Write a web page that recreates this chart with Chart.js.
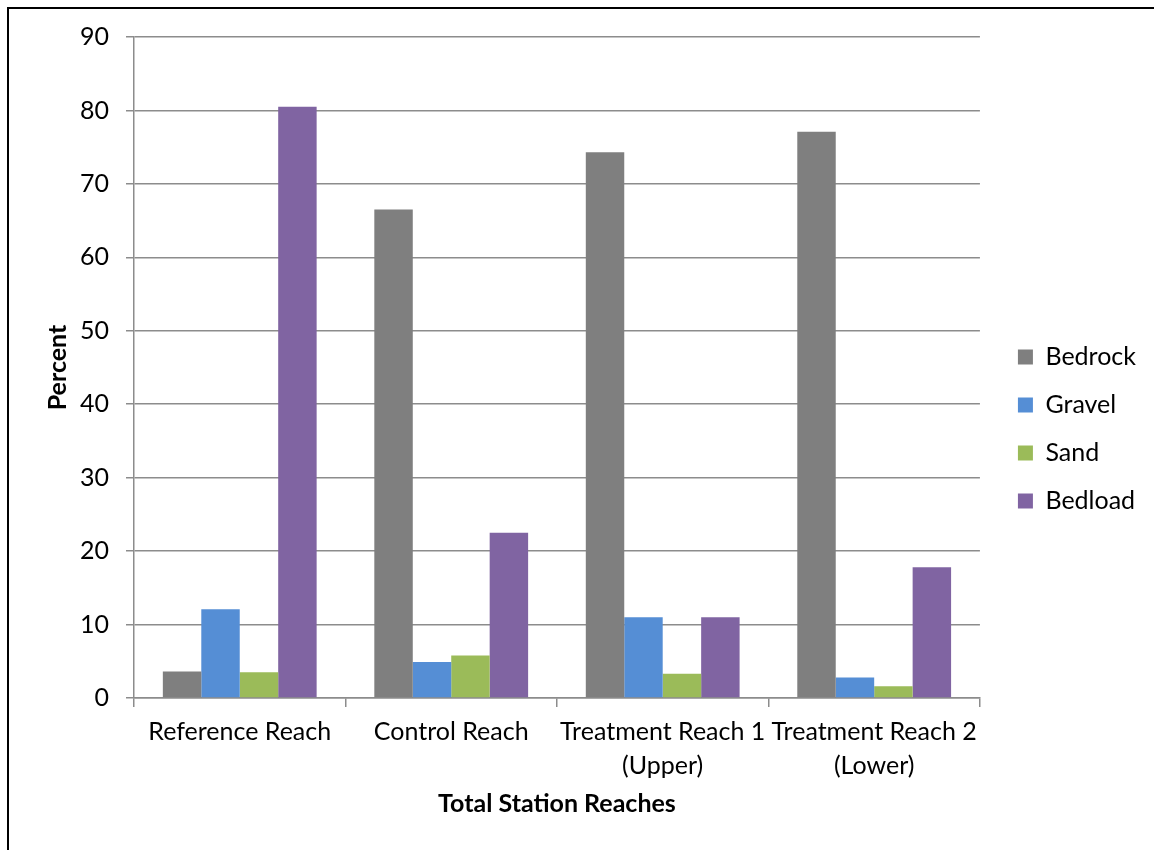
<!DOCTYPE html>
<html>
<head>
<meta charset="utf-8">
<script src="https://cdn.jsdelivr.net/npm/chart.js@4"></script>
<style>
    html, body {
        margin: 0;
        padding: 0;
        background: #ffffff;
    }
    #frame {
        position: absolute;
        left: 7px;
        top: 7px;
        width: 1200px;
        height: 900px;
        border-left: 2px solid #000000;
        border-top: 2px solid #000000;
    }
    #wrap {
        position: absolute;
        left: 0;
        top: 0;
        width: 1154px;
        height: 850px;
    }
</style>
</head>
<body>
<div id="frame"></div>
<div id="wrap"><canvas id="reaches"></canvas></div>
<script>
const categories = [
    'Reference Reach',
    'Control Reach',
    ['Treatment Reach 1', '(Upper)'],
    ['Treatment Reach 2', '(Lower)']
];

const bedrock = [3.6, 66.5, 74.3, 77.1];
const gravel = [12.1, 4.9, 11.0, 2.8];
const sand = [3.5, 5.8, 3.3, 1.6];
const bedload = [80.5, 22.5, 11.0, 17.8];

const yTicks = [0, 10, 20, 30, 40, 50, 60, 70, 80, 90];

const FONT = 'Lato';
const gridColor = '#8c8c8c';

new Chart(
    document.getElementById('reaches'),
    {
        type: 'bar',
        data: {
            labels: categories,
            datasets: [
                { label: 'Bedrock', data: bedrock, backgroundColor: '#7f7f7f' },
                { label: 'Gravel', data: gravel, backgroundColor: '#558ed5' },
                { label: 'Sand', data: sand, backgroundColor: '#9bbb59' },
                { label: 'Bedload', data: bedload, backgroundColor: '#8064a2' }
            ]
        },
        options: {
            responsive: true,
            maintainAspectRatio: false,
            animation: false,
            datasets: {
                bar: {
                    categoryPercentage: 4 / 5.5,
                    barPercentage: 1
                }
            },
            layout: {
                padding: { left: 10, top: 37, right: 8, bottom: 29 }
            },
            plugins: {
                legend: {
                    position: 'right',
                    labels: {
                        boxWidth: 15,
                        boxHeight: 15,
                        padding: 23,
                        color: '#000000',
                        font: { family: FONT, size: 25 }
                    }
                },
                tooltip: { enabled: false }
            },
            scales: {
                x: {
                    grid: {
                        offset: true,
                        drawOnChartArea: false,
                        tickLength: 9,
                        color: gridColor,
                        lineWidth: 1.5
                    },
                    border: { color: gridColor, width: 1.5 },
                    ticks: {
                        padding: 8,
                        color: '#000000',
                        maxRotation: 0,
                        font: { family: FONT, size: 25, lineHeight: 1.36 }
                    },
                    title: {
                        display: true,
                        text: 'Total Station Reaches',
                        color: '#000000',
                        padding: { top: 0, bottom: 4 },
                        font: { family: FONT, size: 25, weight: 'bold', lineHeight: 1.04 }
                    }
                },
                y: {
                    min: 0,
                    max: 90,
                    afterBuildTicks: (scale) => {
                        scale.ticks = yTicks.map((value) => ({ value }));
                    },
                    afterFit: (scale) => {
                        scale.width = 124;
                    },
                    grid: {
                        tickLength: 8,
                        color: gridColor,
                        lineWidth: 1.5
                    },
                    border: { color: gridColor, width: 1.5 },
                    ticks: {
                        padding: 17,
                        color: '#000000',
                        font: { family: FONT, size: 25 }
                    },
                    title: {
                        display: true,
                        text: 'Percent',
                        color: '#000000',
                        padding: { top: 33, bottom: 0 },
                        font: { family: FONT, size: 25, weight: 'bold' }
                    }
                },
                // empty spacer between the plot and the legend
                gap: {
                    position: 'right',
                    display: true,
                    grid: { display: false },
                    border: { display: false },
                    ticks: { display: false },
                    afterFit: (scale) => {
                        scale.width = 15;
                    }
                }
            }
        }
    }
);
</script>
</body>
</html>
